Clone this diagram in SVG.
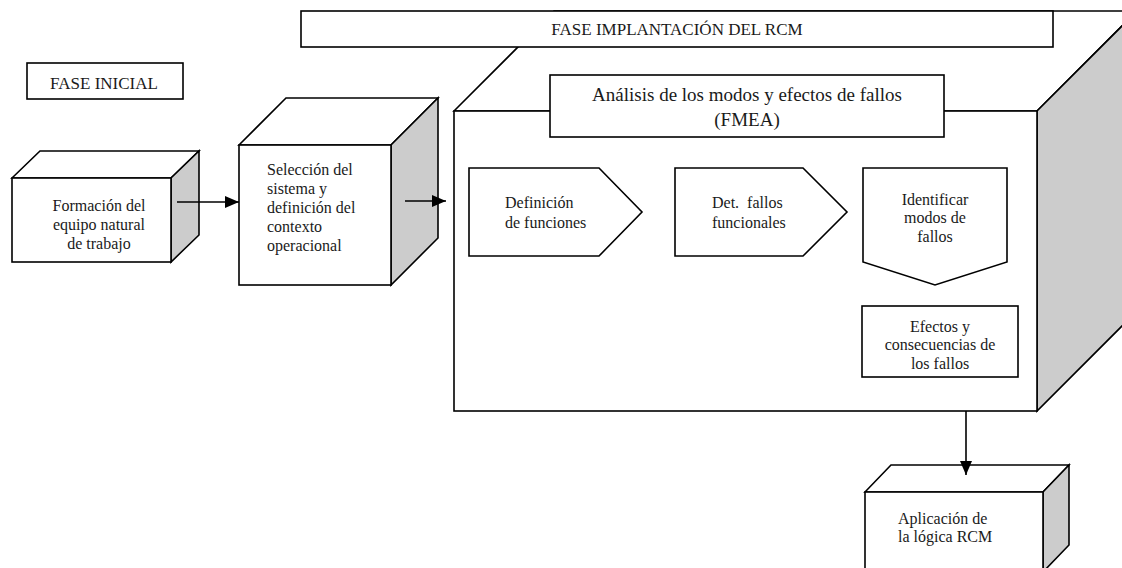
<svg xmlns="http://www.w3.org/2000/svg" width="1122" height="568" viewBox="0 0 1122 568">
<defs>
<style>
.b{fill:#fff;stroke:#000;stroke-width:1.6}
.s{fill:#cccccc;stroke:#000;stroke-width:1.6}
.t{font-family:"Liberation Serif","Times New Roman",serif;font-size:16px;fill:#1a1a1a}
.m{text-anchor:middle}
.ln{stroke:#000;stroke-width:1.6;fill:none}
</style>
<marker id="ah" viewBox="0 0 14 12" markerWidth="14" markerHeight="12" refX="14" refY="6" orient="auto" markerUnits="userSpaceOnUse">
<path d="M0,0 L14,6 L0,12 z" fill="#000"/>
</marker>
</defs>
<rect width="1122" height="568" fill="#fff"/>

<g id="fase-inicial">
<rect class="b" x="27" y="63" width="156" height="36"/>
<text class="t m" x="104" y="89" style="font-size:17px">FASE INICIAL</text>
</g>

<g id="formacion">
<polygon class="b" points="12,178 40,151 199,151 171,178"/>
<polygon class="s" points="171,178 199,151 199,235 171,262"/>
<rect class="b" x="12" y="178" width="159" height="84"/>
<text class="t m" x="99" y="211">Formación del</text>
<text class="t m" x="99" y="230">equipo natural</text>
<text class="t m" x="99" y="249">de trabajo</text>
</g>

<g id="seleccion">
<polygon class="b" points="239,145 286,98 438,98 391,145"/>
<polygon class="s" points="391,145 438,98 438,238 391,285"/>
<rect class="b" x="239" y="145" width="152" height="140"/>
<text class="t" x="267" y="175">Selección del</text>
<text class="t" x="267" y="194">sistema y</text>
<text class="t" x="267" y="213">definición del</text>
<text class="t" x="267" y="232">contexto</text>
<text class="t" x="267" y="251">operacional</text>
</g>

<g id="implantacion">
<polygon class="b" points="454,111 554,11 1137,11 1037,111"/>
<polygon class="s" points="1037,111 1137,11 1137,311 1037,411"/>
<rect class="b" x="454" y="111" width="583" height="300"/>
</g>

<g id="fase-implantacion">
<rect class="b" x="301" y="11" width="752" height="36"/>
<text class="t m" x="677" y="35" style="font-size:17px">FASE IMPLANTACIÓN DEL RCM</text>
</g>

<g id="fmea">
<rect class="b" x="550" y="75" width="394" height="62"/>
<text class="t m" x="747" y="101" style="font-size:19px">Análisis de los modos y efectos de fallos</text>
<text class="t m" x="747" y="126" style="font-size:19px">(FMEA)</text>
</g>

<g id="definicion">
<polygon class="b" points="469,168 599,168 642,212 599,256 469,256"/>
<text class="t" x="505" y="208">Definición</text>
<text class="t" x="505" y="228">de funciones</text>
</g>

<g id="det-fallos">
<polygon class="b" points="675,168 803,168 847,212 803,256 675,256"/>
<text class="t" x="712" y="208" xml:space="preserve">Det.  fallos</text>
<text class="t" x="712" y="228">funcionales</text>
</g>

<g id="identificar">
<polygon class="b" points="863,168 1007,168 1007,262 935,285 863,262"/>
<text class="t m" x="935" y="205">Identificar</text>
<text class="t m" x="935" y="223">modos de</text>
<text class="t m" x="935" y="242">fallos</text>
</g>

<g id="efectos">
<rect class="b" x="862" y="306" width="156" height="71"/>
<text class="t m" x="940" y="332">Efectos y</text>
<text class="t m" x="940" y="350">consecuencias de</text>
<text class="t m" x="940" y="369">los fallos</text>
</g>

<g id="aplicacion">
<polygon class="b" points="865,492 891,465 1069,465 1043,492"/>
<polygon class="s" points="1043,492 1069,465 1069,545 1043,572"/>
<rect class="b" x="865" y="492" width="178" height="110"/>
<text class="t" x="898" y="524">Aplicación de</text>
<text class="t" x="898" y="542">la lógica RCM</text>
</g>

<g id="connectors">
<line class="ln" x1="177" y1="202" x2="239" y2="202" marker-end="url(#ah)"/>
<line class="ln" x1="405" y1="201" x2="446" y2="201" marker-end="url(#ah)"/>
<line class="ln" x1="966" y1="411" x2="966" y2="475" marker-end="url(#ah)"/>
</g>
</svg>
